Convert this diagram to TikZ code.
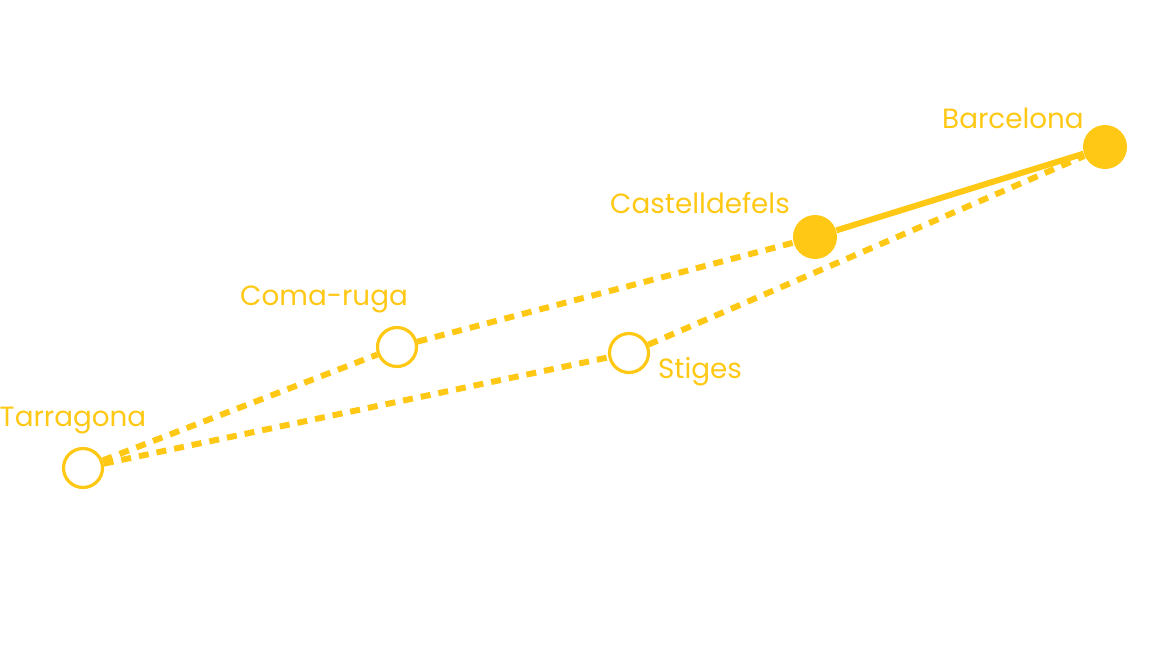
\documentclass[tikz,border=0pt]{standalone}
\usepackage{fontspec}
\setmainfont{Poppins}
\usetikzlibrary{positioning}
\definecolor{mapYellow}{HTML}{FFC815}
\tikzset{
  map/stop/.style={circle, draw=mapYellow, line width=1.6pt, fill=white,
    minimum size=19.5pt, inner sep=0pt},
  map/hub/.style={circle, fill=mapYellow, minimum size=22pt, inner sep=0pt},
  map/name/.style={font=\fontsize{13.9}{16}\selectfont, text=mapYellow,
    inner sep=0pt},
  map/route/.style={draw=mapYellow, line width=3pt},
  map/option/.style={map/route, dash pattern=on 5pt off 4pt},
}

\begin{document}
\begin{tikzpicture}[x=0.5pt, y=-0.5pt]
\useasboundingbox (0,0) rectangle (1156,654);

% stops along the coast
\node[map/stop] (tarragona) at (83,468) {};
\node[map/stop] (comaruga) at (397,347) {};
\node[map/stop] (stiges) at (629,353) {};
\node[map/hub] (castelldefels) at (815,237) {};
\node[map/hub] (barcelona) at (1105,147) {};

\node[map/name] (tarragonaName) at (73,421) {Tarragona};
\node[map/name] (comarugaName) at (324,299) {Coma-ruga};
\node[map/name] (stigesName) at (700,372) {Stiges};
\node[map/name] (castelldefelsName) at (700,203) {Castelldefels};
\node[map/name] (barcelonaName) at (1013,118) {Barcelona};

% routes
\draw[map/option] (tarragona) -- (comaruga);
\draw[map/option] (comaruga) -- (castelldefels);
\draw[map/option] (tarragona) -- (stiges);
\draw[map/option] (stiges) -- (barcelona);
\draw[map/route] (castelldefels) -- (barcelona);
\end{tikzpicture}
\end{document}
